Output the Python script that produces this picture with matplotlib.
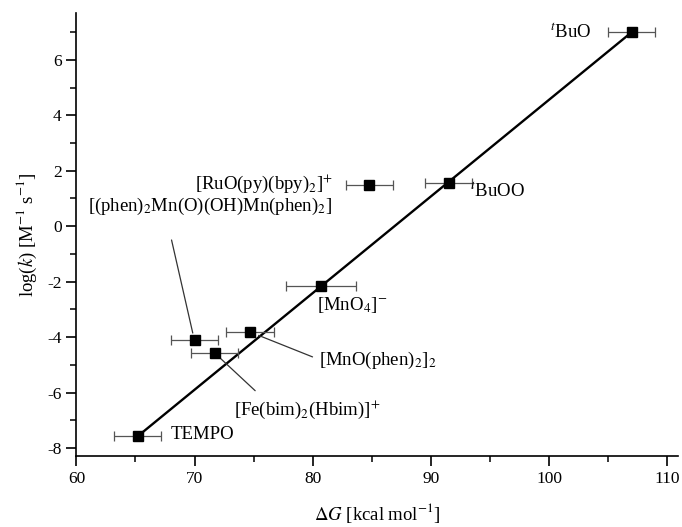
import matplotlib
matplotlib.use("Agg")
import matplotlib.pyplot as plt
from matplotlib.ticker import MultipleLocator

plt.rcParams['font.family'] = 'Liberation Serif'
plt.rcParams['mathtext.fontset'] = 'stix'
plt.rcParams['axes.unicode_minus'] = False

# oxidants: driving force (kcal/mol), log rate constant, error in dG
names = ['tBuO', 'tBuOO', 'RuO', 'MnO4', 'phenMn2', 'MnOphen', 'Febim', 'TEMPO']
dG = [107.0, 91.5, 84.8, 80.7, 70.0, 74.7, 71.7, 65.2]
logk = [7.0, 1.55, 1.5, -2.14, -4.12, -3.82, -4.56, -7.57]
dG_err = [2.0, 2.0, 2.0, 3.0, 2.0, 2.0, 2.0, 2.0]

# linear correlation line
fit_x = [65.2, 107.0]
fit_y = [-7.57, 7.0]

fig = plt.figure(figsize=(6.82, 5.27), dpi=100)
ax = fig.add_axes([0.112, 0.134, 0.882, 0.842])

ax.plot(fit_x, fit_y, color='black', lw=1.7, zorder=2)
ax.errorbar(dG, logk, xerr=dG_err, fmt='s', color='black', ms=7,
            ecolor='#555555', elinewidth=0.9, capsize=3.5, capthick=0.9, zorder=3)

fs = 13.5
ax.text(103.6, 7.0, r'$^{\it t}$BuO', fontsize=fs, ha='right', va='center')
ax.text(93.3, 1.25, r'$^{\it t}$BuOO', fontsize=fs, ha='left', va='center')
ax.text(81.7, 1.55, r'[RuO(py)(bpy)$_2$]$^{+}$', fontsize=fs, ha='right', va='center')
ax.text(80.4, -2.85, r'[MnO$_4$]$^{-}$', fontsize=fs, ha='left', va='center')
ax.text(68.0, -7.5, 'TEMPO', fontsize=fs, ha='left', va='center')
ax.text(71.3, 0.7, r'[(phen)$_2$Mn(O)(OH)Mn(phen)$_2$]', fontsize=fs, ha='center', va='center')
ax.text(80.5, -4.85, r'[MnO(phen)$_2$]$_2$', fontsize=fs, ha='left', va='center')
ax.text(73.3, -6.6, r'[Fe(bim)$_2$(Hbim)]$^{+}$', fontsize=fs, ha='left', va='center')

# leader lines from labels to points
leader = dict(arrowstyle='-', color='#333333', lw=0.9)
ax.annotate('', xy=(69.9, -3.95), xytext=(68.0, -0.4), arrowprops=leader)
ax.annotate('', xy=(75.2, -3.9), xytext=(80.2, -4.75), arrowprops=leader)
ax.annotate('', xy=(71.9, -4.65), xytext=(75.3, -6.0), arrowprops=leader)

ax.set_xlim(60, 110.9)
ax.set_ylim(-8.3, 7.7)
ax.xaxis.set_major_locator(MultipleLocator(10))
ax.xaxis.set_minor_locator(MultipleLocator(5))
ax.yaxis.set_major_locator(MultipleLocator(2))
ax.yaxis.set_minor_locator(MultipleLocator(1))

for side in ['top', 'right']:
    ax.spines[side].set_visible(False)
for side in ['left', 'bottom']:
    ax.spines[side].set_linewidth(1.2)

ax.tick_params(which='major', direction='out', length=7, width=1.2, labelsize=12.5)
ax.tick_params(which='minor', direction='out', length=4.5, width=1.1)

ax.set_xlabel(r'$\Delta G$ [kcal mol$^{-1}$]', fontsize=13.5, labelpad=10)
ax.set_ylabel(r'log($k$) [M$^{-1}$ s$^{-1}$]', fontsize=13.5, labelpad=6)

fig.savefig('out.png', dpi=100)
